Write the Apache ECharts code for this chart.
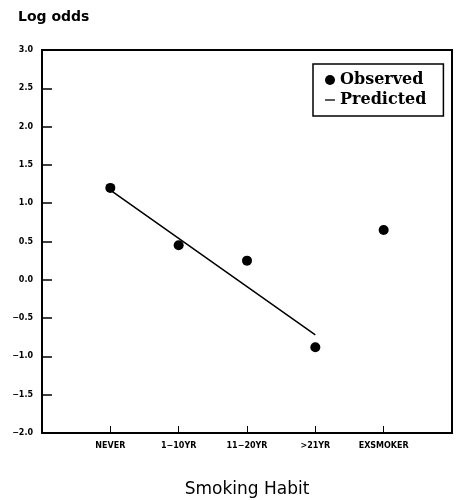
<!DOCTYPE html>
<html><head><meta charset="utf-8">
<script src="https://cdn.jsdelivr.net/npm/echarts@6/dist/echarts.min.js"></script>
<style>html,body{margin:0;padding:0;background:#fff}#c{width:457px;height:500px}</style>
</head><body><div id="c"></div>
<script>
var categories = ['NEVER', '1\u221210YR', '11\u221220YR', '>21YR', 'EXSMOKER'];
var observed = [1.2, 0.45, 0.25, -0.88, 0.65];
var predicted = [1.17, 0.54, -0.09, -0.72];
var yTicks = [-2.0, -1.5, -1.0, -0.5, 0.0, 0.5, 1.0, 1.5, 2.0, 2.5, 3.0];

var obsData = observed.map(function (v, i) { return [i + 1, v]; });
var predData = predicted.map(function (v, i) { return [i + 1, v]; });

var chart = echarts.init(document.getElementById('c'));
chart.setOption({
  animation: false,
  backgroundColor: '#fff',
  title: {
    text: 'Log odds', left: 13, top: 5,
    textStyle: { fontFamily: 'DejaVu Sans', fontWeight: 'bold', fontSize: 14, color: '#000' }
  },
  legend: {
    left: 313, top: 64,
    orient: 'vertical',
    padding: [8, 17, 8, 12],
    itemGap: 4,
    borderColor: '#000', borderWidth: 1.5,
    itemWidth: 10, itemHeight: 10,
    textStyle: { fontFamily: 'DejaVu Serif', fontWeight: 'bold', fontSize: 16, color: '#000' },
    data: [
      { name: 'Observed', icon: 'circle' },
      { name: 'Predicted', icon: 'path://M0,4.5 L10,4.5 L10,5.8 L0,5.8 Z' }
    ]
  },
  grid: {
    left: 42, right: 5, top: 50, bottom: 67,
    outerBoundsMode: 'none', containLabel: false,
    show: true, borderColor: '#000', borderWidth: 2
  },
  xAxis: {
    type: 'value', min: 0, max: 6, interval: 1,
    name: 'Smoking Habit', nameLocation: 'middle', nameGap: 48,
    nameTextStyle: { fontFamily: 'DejaVu Sans', fontSize: 17, color: '#000' },
    axisLine: { show: true, onZero: false, lineStyle: { color: '#000', width: 2 } },
    axisTick: { show: true, inside: true, length: 7, lineStyle: { color: '#000', width: 1 } },
    splitLine: { show: false },
    axisLabel: {
      fontFamily: 'DejaVu Sans', fontWeight: 'bold', fontSize: 8, color: '#000', margin: 9,
      formatter: function (v) { return categories[v - 1] || ''; }
    }
  },
  yAxis: {
    type: 'value', min: yTicks[0], max: yTicks[yTicks.length - 1], interval: 0.5,
    axisLine: { show: true, onZero: false, lineStyle: { color: '#000', width: 2 } },
    axisTick: { show: true, inside: true, length: 10, lineStyle: { color: '#000', width: 1.5 } },
    splitLine: { show: false },
    axisLabel: {
      fontFamily: 'DejaVu Sans', fontWeight: 'bold', fontSize: 8, color: '#000', margin: 9,
      formatter: function (v) { return (v < 0 ? '\u2212' : '') + Math.abs(v).toFixed(1); }
    }
  },
  series: [
    {
      name: 'Predicted', type: 'line', data: predData,
      symbol: 'none', lineStyle: { color: '#000', width: 1.5 }, itemStyle: { color: '#000' }, z: 2
    },
    {
      name: 'Observed', type: 'scatter', data: obsData,
      symbol: 'circle', symbolSize: 10, itemStyle: { color: '#000', opacity: 1 }, z: 3
    }
  ]
});
</script></body></html>
